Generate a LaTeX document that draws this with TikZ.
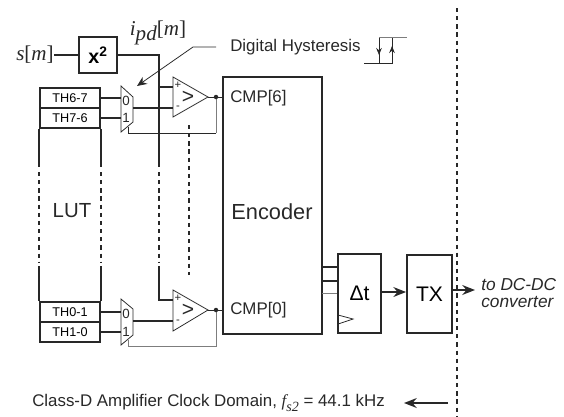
\documentclass[tikz,border=0pt]{standalone}
\usepackage{fontspec}
\setmainfont{Liberation Sans}
\newfontfamily\sigfont{Liberation Serif}
\usepackage{tikz}
\usetikzlibrary{arrows.meta}
\definecolor{WireGray}{RGB}{125,125,125}
\definecolor{InkDark}{RGB}{40,40,40}

\begin{document}
\begin{tikzpicture}[
          x=0.025cm, y=-0.025cm,
          blk/.style={rectangle, draw=InkDark, line width=1.3pt, inner sep=0pt, align=center},
          thr/.style={blk, minimum width=1.5cm, minimum height=0.5cm, font=\fontsize{9}{11}\selectfont},
          wire/.style={draw=InkDark, line width=1.3pt},
          thinw/.style={draw=InkDark, line width=0.55pt},
          back/.style={draw=WireGray, line width=0.7pt},
          arr/.style={-{Stealth[length=9pt,width=7pt]}, draw=InkDark, line width=1.3pt},
          vdots/.style={draw=InkDark, line width=1.9pt, dash pattern=on 3pt off 2.8pt},
          lbl/.style={inner sep=0pt, text=InkDark, font=\fontsize{12}{14}\selectfont},
          sgl/.style={inner sep=0pt, text=InkDark, font=\sigfont\fontsize{15}{17}\selectfont},
          muxbit/.style={lbl, font=\fontsize{9.5}{11}\selectfont},
          sign/.style={lbl, font=\fontsize{8}{9}\selectfont},
          gt/.style={lbl, font=\fontsize{15}{17}\selectfont}
        ]
        \useasboundingbox (0,0) rectangle (564,416);

        % input and squarer
        \node[sgl] (sig) at (35,55) {\textit{s}[\textit{m}]};
        \node[blk, minimum width=0.95cm, minimum height=0.9cm, font=\bfseries\fontsize{14}{16}\selectfont] (sq) at (98,55)
              {x\textsuperscript{2}};
        \node[sgl] (ipd) at (158,33) {\textit{i}\raisebox{-3pt}{\textit{pd}}[\textit{m}]};
        \coordinate (bus) at (159,55);
        \coordinate (bustop) at (159,87);
        \coordinate (busa) at (159,167);
        \coordinate (busb) at (159,172);
        \coordinate (busc) at (159,262);
        \coordinate (busd) at (159,266);

        % LUT
        \node[thr] (th67) at (70,98) {TH6-7};
        \node[thr] (th76) at (70,118) {TH7-6};
        \node[thr] (th01) at (70,312) {TH0-1};
        \node[thr] (th10) at (70,332) {TH1-0};
        \node[lbl, font=\fontsize{14.5}{16}\selectfont] (lut) at (72,211) {LUT};
        \draw[wire] (th76.south west) -- (th76.south west |- busa);
        \draw[wire] (th76.south east) -- (th76.south east |- busa);
        \draw[vdots] (th76.south west |- busb) -- (th76.south west |- busc);
        \draw[vdots] (th76.south east |- busb) -- (th76.south east |- busc);
        \draw[wire] (th01.north west |- busd) -- (th01.north west);
        \draw[wire] (th01.north east |- busd) -- (th01.north east);

        % muxes
        \draw[thinw] (121,86) coordinate (ma) -- (133,97) -- (133,122) -- (121,132) -- cycle;
        \draw[thinw] (121,299) coordinate (mb) -- (133,309) -- (133,335) -- (121,345) -- cycle;
        \node[muxbit] (m60) at (126,101) {0};
        \node[muxbit] (m61) at (126,118) {1};
        \node[muxbit] (m00) at (126,314) {0};
        \node[muxbit] (m01) at (126,332) {1};
        \draw[wire] (th67) ++(30,0) -- (ma |- th67);
        \draw[wire] (th76) ++(30,0) -- (ma |- th76);
        \draw[wire] (th01) ++(30,0) -- (mb |- th01);
        \draw[wire] (th10) ++(30,0) -- (mb |- th10);

        % comparators
        \draw[wire] (sig) -- (sq);
        \draw[wire] (sq) -- (bus) -- (busa);
        \draw[vdots] (busb) -- (busc);
        \draw[wire] (busd) |- (173,300) coordinate (cb);
        \draw[wire] (bustop) -- (173,87) coordinate (ca);
        \draw[wire] (133,108) -- (173,108);
        \draw[wire] (133,321) -- (173,321);
        \draw[thinw, fill=white] (173,77) -- (208,97) coordinate (o6) -- (173,117) -- cycle;
        \draw[thinw, fill=white] (173,290) -- (208,310) coordinate (o0) -- (173,331) -- cycle;
        \node[sign] (p6) at (178,85) {+};
        \node[sign] (n6) at (178,108) {-};
        \node[sign] (p0) at (178,298) {+};
        \node[sign] (n0) at (178,322) {-};
        \node[gt] (gt6) at (188,97) {>};
        \node[gt] (gt0) at (188,310) {>};
        \draw[vdots] (189,125) -- (189,275);

        % encoder
        \node[blk, minimum width=2.475cm, minimum height=6.425cm] (enc) at (272.5,205.5) {};
        \node[lbl, font=\fontsize{15.5}{17}\selectfont] (enctxt) at (272,212) {Encoder};
        \node[lbl, anchor=west] (cmp6) at (230,98) {CMP[6]};
        \node[lbl, anchor=west] (cmp0) at (230,310) {CMP[0]};
        \coordinate (d6) at (216,97);
        \coordinate (d0) at (216,310);
        \draw[thinw] (o6) -- (enc.west |- o6);
        \draw[thinw] (o0) -- (enc.west |- o0);
        \draw[back] (d6) -- (216,133);
        \draw[thinw] (216,133) -- (128,133) -- (128,127);
        \draw[back] (d0) -- (216,346) -- (128,346) -- (128,340);
        \fill[InkDark] (d6) circle (1.6pt);
        \fill[InkDark] (d0) circle (1.6pt);

        % output chain
        \node[blk, minimum width=1.075cm, minimum height=1.975cm, font=\fontsize{15}{17}\selectfont] (dt) at (359.5,293.5) {Δt};
        \node[blk, minimum width=1.125cm, minimum height=1.95cm, font=\fontsize{15}{17}\selectfont] (tx) at (429.5,294) {TX};
        \coordinate (e1) at (322,267);
        \coordinate (e2) at (322,281);
        \coordinate (e3) at (322,293);
        \draw[wire] (e1) -- (dt.west |- e1);
        \draw[wire] (e2) -- (dt.west |- e2);
        \draw[back] (e3) -- (dt.west |- e3);
        \draw[thinw] (338,315) -- (353,319) -- (338,324);
        \draw[arr] (dt.east |- 0,292) -- (tx.west |- 0,292);
        \coordinate (dcend) at (475,290);
        \draw[arr] (tx.east |- dcend) -- (dcend);
        \node[lbl, font=\itshape\fontsize{12.3}{12.2}\selectfont, align=left, anchor=west] (dcdc) at (481,293) {to DC-DC\\converter};

        % clock domain boundary
        \draw[vdots] (457,8) -- (457,416);
        \node[lbl, anchor=west] (dom) at (32,403)
              {Class-D Amplifier Clock Domain, {\sigfont\itshape f\raisebox{-3pt}{\fontsize{10}{11}\selectfont s2}} = 44.1 kHz};
        \coordinate (dr) at (448,403);
        \coordinate (dl) at (404,403);
        \draw[arr] (dr) -- (dl);

        % hysteresis callout
        \node[lbl, anchor=west] (hys) at (230,47) {Digital Hysteresis};
        \coordinate (c1) at (216,47);
        \coordinate (c2) at (193,47);
        \coordinate (c3) at (137,86);
        \draw[thinw, -{Stealth[length=7pt,width=6pt]}] (c1) -- (c2) -- (c3);
        \draw[thinw] (364,63) -- (392,63) -- (392,37);
        \draw[thinw] (379,63) -- (379,37);
        \draw[back] (379,37) -- (407,37);
        \draw[thinw, -{Stealth[length=5pt,width=4pt]}] (379,44) -- (379,55);
        \draw[thinw, -{Stealth[length=5pt,width=4pt]}] (392,57) -- (392,46);
      \end{tikzpicture}
\end{document}
